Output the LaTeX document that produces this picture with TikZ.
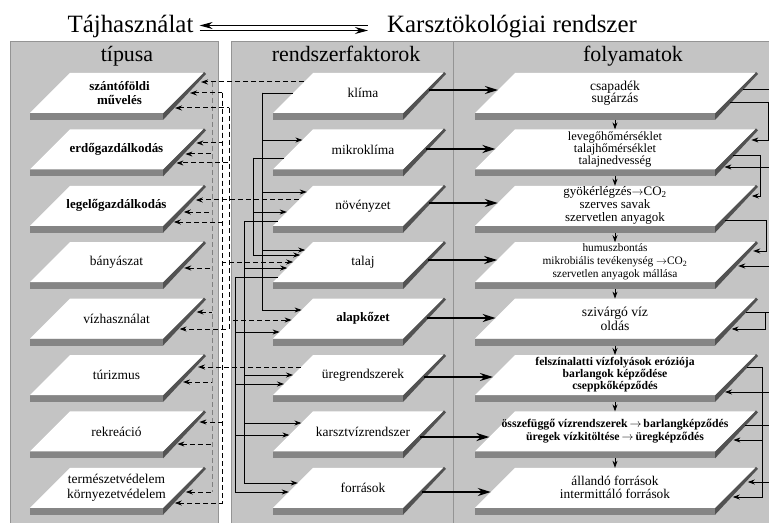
\documentclass[tikz,border=0pt]{standalone}
\usepackage{fontspec}
\setmainfont{Liberation Serif}
\usetikzlibrary{arrows.meta, positioning, calc, backgrounds}
\definecolor{panelgray}{gray}{0.77}
\definecolor{paneledge}{gray}{0.58}
\definecolor{slabfront}{gray}{0.52}
\definecolor{slabside}{gray}{0.32}
\newcommand{\factorfont}{\fontsize{13.5}{15}\selectfont}
\newcommand{\factorbold}{\fontsize{13}{15}\selectfont\bfseries}
\tikzstyle{slab} = [rectangle, minimum height=40bp, inner sep=0pt, outer sep=0pt]
\tikzstyle{leftslab} = [slab, minimum width=173bp]
\tikzstyle{midslab} = [slab, minimum width=170bp]
\tikzstyle{procslab} = [slab, minimum width=280bp]
\tikzstyle{slabtext} = [align=center, inner sep=0pt, font=\factorfont]
\tikzstyle{title} = [anchor=base, inner sep=0pt, font=\fontsize{25}{25}\selectfont]
\tikzstyle{header} = [anchor=base, inner sep=0pt, font=\fontsize{22}{22}\selectfont]
\tikzstyle{link} = [line width=0.8bp]
\tikzstyle{arrow} = [link, -{Stealth[length=7bp, width=5bp]}]
\tikzstyle{backarrow} = [link, {Stealth[length=7bp, width=5bp]}-]
\tikzstyle{bigarrow} = [line width=1.7bp, -{Stealth[length=13bp, width=8bp]}]
\tikzstyle{titlearrow} = [line width=1.1bp, -{Stealth[length=13bp, width=7bp]}]
\tikzstyle{dashline} = [line width=1bp, dash pattern=on 5bp off 3bp]
\tikzstyle{dasharrow} = [dashline, -{Stealth[length=7bp, width=5bp]}]
\tikzstyle{backdash} = [dashline, {Stealth[length=7bp, width=5bp]}-]
\tikzstyle{graydash} = [dashline, draw=gray]

\begin{document}
\begin{tikzpicture}[x=1bp, y=-1bp, node distance=56.4bp]
\useasboundingbox (0,0) rectangle (769,523);
% panels
\begin{scope}[on background layer]
\fill[white] (0,0) rectangle (769,523);
\filldraw[fill=panelgray, draw=paneledge, line width=1bp] (10,42) rectangle (218,540);
\filldraw[fill=panelgray, draw=paneledge, line width=1bp] (231,42) rectangle (790,540);
\draw[paneledge, line width=0.8bp] (453,42) -- (453,540);
\end{scope}

% titles
\node (use) [title] at (130.5,33) {Tájhasználat};
\node (karst) [title] at (512,33) {Karsztökológiai rendszer};
\coordinate (ta) at ([xshift=6bp]use.east);
\coordinate (tb) at ([xshift=-19bp]karst.west);
\draw[titlearrow] (tb |- 0,25.5) -- (ta |- 0,25.5);
\draw[titlearrow] (ta |- 0,30.5) -- (tb |- 0,30.5);
\node (hleft) [header] at (127,62) {típusa};
\node (hmid) [header] at (346,62) {rendszerfaktorok};
\node (hright) [header] at (633,62) {folyamatok};

% land use types
\node (t1) [leftslab, label={[slabtext, xshift=3bp, font=\factorbold]center:{szántóföldi\\művelés}}] at (116.5,93) {};
\node (t2) [leftslab, below of=t1, label={[slabtext, font=\factorbold]center:erdőgazdálkodás}] {};
\node (t3) [leftslab, below of=t2, label={[slabtext, font=\factorbold]center:legelőgazdálkodás}] {};
\node (t4) [leftslab, below of=t3, label={[slabtext]center:bányászat}] {};
\node (t5) [leftslab, below of=t4, label={[slabtext]center:vízhasználat}] {};
\node (t6) [leftslab, below of=t5, label={[slabtext]center:túrizmus}] {};
\node (t7) [leftslab, below of=t6, label={[slabtext]center:rekreáció}] {};
\node (t8) [leftslab, below of=t7, label={[slabtext]center:{természetvédelem\\környezetvédelem}}] {};

% system factors
\node (m1) [midslab, label={[slabtext, xshift=5bp]center:klíma}] at (358,93) {};
\node (m2) [midslab, below of=m1, label={[slabtext, xshift=5bp]center:mikroklíma}] {};
\node (m3) [midslab, below of=m2, label={[slabtext, xshift=5bp]center:növényzet}] {};
\node (m4) [midslab, below of=m3, label={[slabtext, xshift=5bp]center:talaj}] {};
\node (m5) [midslab, below of=m4, label={[slabtext, xshift=5bp, font=\factorbold]center:alapkőzet}] {};
\node (m6) [midslab, below of=m5, label={[slabtext, xshift=5bp]center:üregrendszerek}] {};
\node (m7) [midslab, below of=m6, label={[slabtext, xshift=5bp]center:karsztvízrendszer}] {};
\node (m8) [midslab, below of=m7, label={[slabtext, xshift=5bp]center:források}] {};

% processes
\node (r1) [procslab, label={[slabtext, font=\fontsize{13.6}{12.5}\selectfont]center:{csapadék\\sugárzás}}] at (615,93) {};
\node (r2) [procslab, below of=r1, label={[slabtext, font=\fontsize{12.5}{11.8}\selectfont]center:{levegőhőmérséklet\\talajhőmérséklet\\talajnedvesség}}] {};
\node (r3) [procslab, below of=r2, label={[slabtext, font=\fontsize{13}{13}\selectfont]center:{gyökérlégzés$\rightarrow$CO\textsubscript{2}\\szerves savak\\szervetlen anyagok}}] {};
\node (r4) [procslab, below of=r3, label={[slabtext, font=\fontsize{11.4}{13}\selectfont]center:{humuszbontás\\mikrobiális tevékenység $\rightarrow$CO\textsubscript{2}\\szervetlen anyagok mállása}}] {};
\node (r5) [procslab, below of=r4, label={[slabtext, font=\fontsize{13.7}{14}\selectfont]center:{szivárgó víz\\oldás}}] {};
\node (r6) [procslab, below of=r5, label={[slabtext, font=\fontsize{11.7}{12}\selectfont\bfseries]center:{felszínalatti vízfolyások eróziója\\barlangok képződése\\cseppkőképződés}}] {};
\node (r7) [procslab, below of=r6, label={[slabtext, font=\fontsize{11.8}{12.8}\selectfont\bfseries]center:{összefüggő vízrendszerek$\,\rightarrow\,$barlangképződés\\üregek vízkitöltése$\,\rightarrow\,$üregképződés}}] {};
\node (r8) [procslab, below of=r7, label={[slabtext, font=\fontsize{13.4}{13}\selectfont]center:{állandó források\\intermittáló források}}] {};

% the slabs under every box
\begin{scope}[on background layer]
\foreach \c in {t,m,r}{
  \foreach \i in {1,...,8}{
    \coordinate (\c\i-br) at ($(\c\i.south east)+(-40,0)$);
    \coordinate (\c\i-tl) at ($(\c\i.north west)+(40,0)$);
    \fill[slabside] (\c\i-br) -- ($(\c\i.north east)+(1,-1)$) -- ($(\c\i.north east)+(3,1)$) -- ($(\c\i-br)+(0,7)$) -- cycle;
    \fill[slabfront] (\c\i.south west) rectangle ($(\c\i-br)+(0,7)$);
    \fill[white] (\c\i.south west) -- (\c\i-br) -- (\c\i.north east) -- (\c\i-tl) -- cycle;
  }
}
\end{scope}

% lanes for the connectors
\coordinate (v1) at (262,0);
\coordinate (v2) at (253,0);
\coordinate (v3) at (244,0);
\coordinate (v4) at (235,0);
\coordinate (g1) at (212,0);
\coordinate (g2) at (222,0);
\coordinate (g3) at (229,0);
\coordinate (w1) at (768,0);
\coordinate (w2) at (760,0);
\coordinate (w3) at (766,0);
\coordinate (w4) at (762,0);
\coordinate (w5) at (765,0);
\coordinate (rim) at (775,0);

% factors into processes
\draw[bigarrow] ($(m1-br)!.575!(m1.north east)+(3,0)$) -- ($(r1.south west)!.575!(r1-tl)$);
\draw[bigarrow] ($(m2-br)!.51!(m2.north east)+(3,0)$) -- ($(r2.south west)!.51!(r2-tl)$);
\draw[bigarrow] ($(m3-br)!.57!(m3.north east)+(3,0)$) -- ($(r3.south west)!.57!(r3-tl)$);
\draw[bigarrow] ($(m4-br)!.555!(m4.north east)+(3,0)$) -- ($(r4.south west)!.555!(r4-tl)$);
\draw[bigarrow] ($(m5-br)!.515!(m5.north east)+(3,0)$) -- ($(r5.south west)!.515!(r5-tl)$);
\draw[bigarrow] ($(m6-br)!.45!(m6.north east)+(3,0)$) -- ($(r6.south west)!.45!(r6-tl)$);
\draw[bigarrow] ($(m7-br)!.36!(m7.north east)+(3,0)$) -- ($(r7.south west)!.36!(r7-tl)$);
\draw[bigarrow] ($(m8-br)!.395!(m8.north east)+(3,0)$) -- ($(r8.south west)!.395!(r8-tl)$);

% process chain
\draw[arrow] ($(r1.south)+(0,7)$) -- (r2.north);
\draw[arrow] ($(r2.south)+(0,7)$) -- (r3.north);
\draw[arrow] ($(r3.south)+(0,7)$) -- (r4.north);
\draw[arrow] ($(r4.south)+(0,7)$) -- (r5.north);
\draw[arrow] ($(r5.south)+(0,7)$) -- (r6.north);
\draw[arrow] ($(r6.south)+(0,7)$) -- (r7.north);
\draw[arrow] ($(r7.south)+(0,7)$) -- (r8.north);

% feedbacks on the right
\draw[link] ($(r1-br)!.6!(r1.north east)+(4,0)$) coordinate (b1) -- (b1 -| rim);
\draw[arrow] ($(r1-br)!.275!(r1.north east)+(4,0)$) coordinate (b2) -- (b2 -| w1) |- ($(r2-br)!.735!(r2.north east)+(7,0)$);
\draw[arrow] ($(r2-br)!.36!(r2.north east)+(4,0)$) coordinate (b3) -- (b3 -| w2) |- ($(r3-br)!.745!(r3.north east)+(7,0)$);
\draw[backarrow] ($(r2-br)!.06!(r2.north east)+(7,0)$) coordinate (b4) -- (b4 -| rim);
\draw[arrow] ($(r3-br)!.145!(r3.north east)+(4,0)$) coordinate (b5) -- (b5 -| w3) |- ($(r4-br)!.78!(r4.north east)+(7,0)$);
\draw[backarrow] ($(r4-br)!.405!(r4.north east)+(7,0)$) coordinate (b6) -- (b6 -| rim);
\draw[link] ($(r5-br)!.665!(r5.north east)+(4,0)$) coordinate (b7) -- (b7 -| rim);
\draw[arrow] (b7 -| w5) |- ($(r5-br)!.24!(r5.north east)+(7,0)$);
\draw[link] ($(r6-br)!.7!(r6.north east)+(4,0)$) coordinate (b8) -- (b8 -| w4);
\draw[arrow] (b8 -| w4) |- ($(r7-br)!.285!(r7.north east)+(7,0)$);
\draw[arrow] (b8 -| w4) |- ($(r8-br)!.27!(r8.north east)+(7,0)$);
\draw[backarrow] ($(r6-br)!.075!(r6.north east)+(7,0)$) coordinate (b9) -- (b9 -| rim);
\draw[link] ($(r7-br)!.66!(r7.north east)+(4,0)$) coordinate (b10) -- (b10 -| rim);
\draw[backarrow] ($(r8-br)!.645!(r8.north east)+(7,0)$) coordinate (b11) -- (b11 -| rim);

% factors acting on factors
\draw[link] ($(m1.south west)!.5!(m1-tl)$) coordinate (a1) -- (a1 -| v1);
\draw[arrow] (a1 -| v1) |- ($(m2.south west)!.735!(m2-tl)$);
\draw[arrow] (a1 -| v1) |- ($(m3.south west)!.845!(m3-tl)$);
\draw[arrow] (a1 -| v1) |- ($(m4.south west)!.805!(m4-tl)$);
\draw[arrow] (a1 -| v1) |- ($(m5.south west)!.715!(m5-tl)$);
\draw[link] ($(m2.south west)!.285!(m2-tl)$) coordinate (a2) -- (a2 -| v2);
\draw[arrow] (a2 -| v2) |- ($(m3.south west)!.345!(m3-tl)$);
\draw[arrow] (a2 -| v2) |- ($(m4.south west)!.68!(m4-tl)$);
\draw[link] ($(m3.south west)!.12!(m3-tl)$) coordinate (a3) -- (a3 -| v3);
\draw[arrow] (a3 -| v3) |- ($(m4.south west)!.355!(m4-tl)$);
\draw[arrow] (a3 -| v3) |- ($(m6.south west)!.5!(m6-tl)$);
\draw[arrow] (a3 -| v3) |- ($(m7.south west)!.71!(m7-tl)$);
\draw[arrow] (a3 -| v3) |- ($(m8.south west)!.62!(m8-tl)$);
\draw[link] ($(m4.south west)!.13!(m4-tl)$) coordinate (a4) -- (a4 -| v4);
\draw[arrow] (a4 -| v4) |- ($(m5.south west)!.165!(m5-tl)$);
\draw[arrow] (a4 -| v4) |- ($(m6.south west)!.275!(m6-tl)$);
\draw[arrow] (a4 -| v4) |- ($(m7.south west)!.41!(m7-tl)$);
\draw[arrow] (a4 -| v4) |- ($(m8.south west)!.395!(m8-tl)$);

% factors and land use (dashed)
\draw[dasharrow] ($(m1.south west)!.775!(m1-tl)$) coordinate (k1) -- ($(t1-br)!.775!(t1.north east)+(7,0)$);
\draw[dasharrow] ($(m3.south west)!.645!(m3-tl)$) coordinate (k3) -- ($(t3-br)!.645!(t3.north east)+(7,0)$);
\draw[dasharrow] ($(m6.south west)!.7!(m6-tl)$) coordinate (k6) -- ($(t6-br)!.7!(t6.north east)+(7,0)$);
\draw[backdash] ($(t2-br)!.385!(t2.north east)+(7,0)$) coordinate (e2) -- (e2 -| g1);
\draw[backdash] ($(t3-br)!.345!(t3.north east)+(7,0)$) coordinate (e3) -- (e3 -| g1);
\draw[backdash] ($(t4-br)!.355!(t4.north east)+(7,0)$) coordinate (e4) -- (e4 -| g1);
\draw[backdash] ($(t5-br)!.665!(t5.north east)+(7,0)$) coordinate (e5) -- (e5 -| g1);
\draw[backdash] ($(t6-br)!.325!(t6.north east)+(7,0)$) coordinate (e6) -- (e6 -| g1);
\draw[backdash] ($(t7-br)!.185!(t7.north east)+(7,0)$) coordinate (e7) -- (e7 -| g1);
\draw[backdash] ($(t8-br)!.395!(t8.north east)+(7,0)$) coordinate (e8) -- (e8 -| g1);
\draw[graydash] (k1 -| g1) -- (e8 -| g1);
\draw[backdash] ($(t1-br)!.5!(t1.north east)+(7,0)$) coordinate (f1) -- (f1 -| g2);
\draw[dasharrow] (f1 -| g2) |- ($(t2-br)!.66!(t2.north east)+(7,0)$);
\draw[dasharrow] (f1 -| g2) |- ($(t3-br)!.095!(t3.north east)+(7,0)$);
\draw[dasharrow] (f1 -| g2) |- ($(t7-br)!.735!(t7.north east)+(7,0)$);
\draw[dasharrow] (f1 -| g2) |- ($(t8-br)!.12!(t8.north east)+(7,0)$);
\draw[dasharrow] (f1 -| g2) |- ($(m4.south west)!.505!(m4-tl)$);
\draw[backdash] ($(t1-br)!.125!(t1.north east)+(7,0)$) coordinate (h1) -- (h1 -| g3);
\draw[dasharrow] (h1 -| g3) |- ($(t2-br)!.16!(t2.north east)+(7,0)$);
\draw[dasharrow] (h1 -| g3) |- ($(t5-br)!.24!(t5.north east)+(7,0)$);
\draw[dasharrow] (h1 -| g3) |- ($(m5.south west)!.465!(m5-tl)$);
\end{tikzpicture}
\end{document}
